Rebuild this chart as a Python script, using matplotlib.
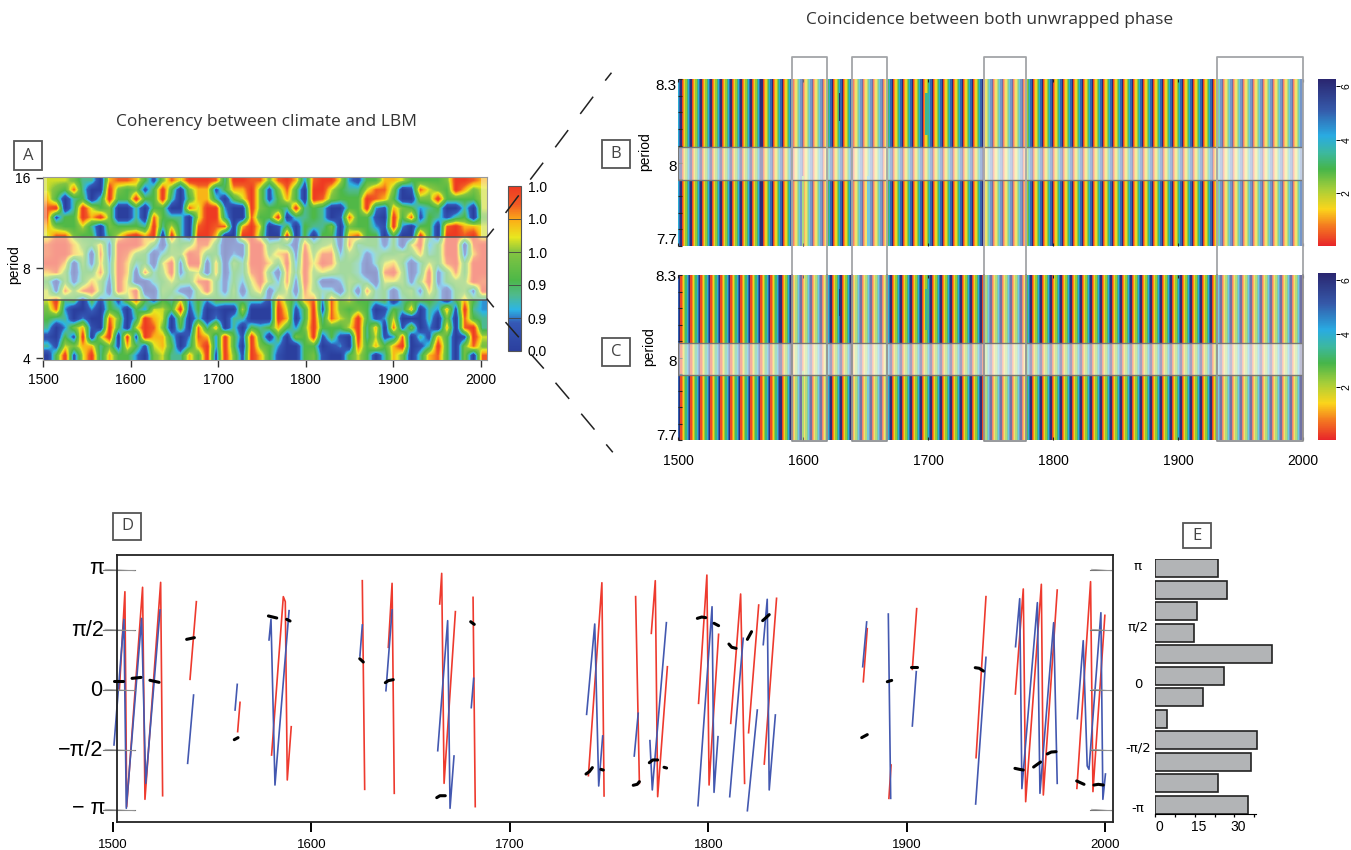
import numpy as np
import matplotlib
matplotlib.use("Agg")
import matplotlib.pyplot as plt
from matplotlib.colors import LinearSegmentedColormap
from matplotlib.patches import Rectangle
from matplotlib.lines import Line2D
from matplotlib.transforms import ScaledTranslation

W, H = 1351, 850
plt.rcParams['font.family'] = ['Liberation Sans', 'DejaVu Sans']

# panel A, coherency (0 = blue ... 9 = red), top row = period 16
coherency_rows = [
    "6665330788741586999839988" + "5897289962144776444459987",
    "6548300954514940577147795" + "1584099643368850186549756",
    "7403403944944930477304695" + "1474098544498740055944446",
    "8903964500304400869920095" + "4439343004492175423400306",
    "8144979500308433069930084" + "4903343018441094814313405",
    "7544630544439363089880796" + "0140433505442192044089776",
    "6885440468979093099700995" + "0090404407844040094099896",
    "8997547199974054588401199" + "4530845608344140692499089",
    "8997608198540355984402199" + "5781958825413445473499179",
    "9970517297340691990705399" + "7492969844303674036489499",
    "7850448297083591560704389" + "4083956544300895039148499",
    "4051475196003464489414269" + "5281950025430665159145598",
    "6185895096900541059415057" + "0460853305083404517304519",
    "6934041415841436242444333" + "1853782856443403444304742",
    "5820020430426649140100600" + "0961491854540143703271932",
    "4330200850397605030203300" + "0970493865941260003050843",
    "3025710940698504083703043" + "4742594446937081502070893",
    "1041906909197730287294194" + "0405491410936128031740196",
    "3165773517416740379294095" + "4200440120847479013940585",
    "0491693744205633749195197" + "4100451004640375037840508",
]
coherency_bar_labels = ["0.0", "0.9", "0.9", "1.0", "1.0", "1.0"]
band_a_periods = [6.25, 10.15]

# panels B and C, years where the phase wraps, and the phase inside one cycle
wrap_years_b = [1503, 1511, 1519, 1527, 1535, 1543, 1551, 1559, 1568, 1576, 1584, 1592, 1600, 1608, 1616,
                1624, 1632, 1640, 1648, 1656, 1664, 1672, 1680, 1688, 1696, 1704, 1712, 1720, 1728, 1736,
                1744, 1752, 1760, 1768, 1776, 1784, 1792, 1800, 1808, 1816, 1824, 1832, 1840, 1848, 1856,
                1864, 1872, 1880, 1888, 1896, 1904, 1912, 1920, 1928, 1936, 1944, 1952, 1960, 1968, 1976,
                1984, 1992]
wrap_years_c = [1502, 1510, 1518, 1526, 1534, 1542, 1550, 1558, 1566, 1574, 1583, 1591, 1599, 1607, 1615,
                1623, 1631, 1639, 1647, 1655, 1663, 1671, 1679, 1687, 1695, 1703, 1711, 1719, 1727, 1735,
                1743, 1751, 1759, 1767, 1775, 1783, 1791, 1799, 1807, 1815, 1823, 1831, 1839, 1847, 1855,
                1863, 1871, 1879, 1887, 1895, 1903, 1911, 1919, 1927, 1935, 1943, 1951, 1959, 1967, 1975,
                1983, 1991, 1999]
cycle_phase = [0.3, 0.9, 1.5, 2.3, 3.2, 4.0, 5.0, 6.1]
anomaly_years = [1599, 1600, 1651, 1652, 1629, 1698, 1699, 1700]
anomaly_first_row = [7, 7, 7, 7, 1, 1, 1, 1]
anomaly_last_row = [12, 12, 12, 12, 3, 4, 4, 4]
anomaly_phase = [2.4, 2.4, 3.9, 3.9, 6.2, 3.4, 3.4, 3.4]
coincidence_starts = [1591.2, 1639.2, 1744.8, 1931.2]
coincidence_ends = [1619.2, 1667.2, 1778.4, 2000]
band_bc_periods = [7.937, 8.054]
period_minor = [7.76, 7.82, 7.88, 7.94, 8.06, 8.12, 8.18, 8.24]
year_ticks = [1500, 1600, 1700, 1800, 1900, 2000]

# panel D, phase in units of pi
red_lines = [
    ([1503.2, 1506.0, 1506.9, 1514.9, 1516.1, 1524.0, 1525.0], [0.0, .819, -.972, .856, -.911, .897, -.881]),
    ([1538.8, 1542.0], [.089, .736]),
    ([1562.8, 1564.0], [-.347, -.103]),
    ([1579.9, 1585.8, 1586.8, 1587.8, 1589.8], [-.542, .778, .736, -.75, -.306]),
    ([1625.6, 1626.8], [.911, -.828]),
    ([1638.7, 1640.6, 1641.7], [.356, .889, -.861]),
    ([1664.6, 1665.6, 1666.8, 1672.5], [.717, .972, -.778, .653]),
    ([1681.4, 1682.5], [.772, -.972]),
    ([1739.5, 1746.3, 1747.4], [-.714, .894, -.883]),
    ([1763.3, 1765.2], [.778, -.778]),
    ([1771.2, 1773.2, 1774.4, 1779.3], [.472, .911, -.889, .194]),
    ([1795.0, 1799.2, 1800.3, 1805.1], [-.111, .958, -.792, .464]),
    ([1811.2, 1816.2, 1818.2], [-.278, .8, -.778]),
    ([1820.2, 1825.3], [-.356, .708]),
    ([1828.1, 1834.3], [-.617, .764]),
    ([1878.0, 1880.0], [.069, .511]),
    ([1890.9, 1892.0], [-.903, -.625]),
    ([1902.7, 1904.9], [.172, .678]),
    ([1934.8, 1939.8], [-.564, .778]),
    ([1954.6, 1958.6, 1959.8, 1967.7, 1968.7, 1975.7], [-.033, .842, -.931, .881, -.875, .833]),
    ([1985.6, 1992.5, 1993.7, 1999.7], [-.82, .903, -.847, .622]),
]
blue_lines = [
    ([1500.5, 1505.5, 1506.7, 1514.4, 1516.5, 1523.7], [-.458, .589, -.986, .597, -.778, .667]),
    ([1537.6, 1540.6], [-.611, -.042]),
    ([1561.5, 1562.6], [-.167, .047]),
    ([1578.6, 1579.6, 1581.6, 1588.7], [.417, .589, -.792, .661]),
    ([1624.4, 1625.6], [.283, .542]),
    ([1637.5, 1640.6], [-.006, .667]),
    ([1663.6, 1668.6, 1669.8, 1671.8], [-.506, .578, -.986, -.55]),
    ([1680.5, 1681.7], [-.147, .097]),
    ([1738.6, 1742.7, 1744.7, 1746.7], [-.203, .55, -.8, -.383]),
    ([1762.6, 1764.6], [-.55, -.194]),
    ([1770.5, 1771.7, 1778.8], [-.422, -.833, .561]),
    ([1794.7, 1801.8, 1802.8, 1804.8], [-.964, .694, -.853, -.389]),
    ([1810.7, 1817.5], [-.889, .431]),
    ([1819.6, 1824.6], [-1.006, -.167]),
    ([1827.6, 1829.6, 1830.6, 1833.7], [.378, .756, -.833, -.208]),
    ([1877.7, 1879.7], [.194, .567]),
    ([1890.6, 1891.8], [.633, -.903]),
    ([1902.7, 1904.7], [-.3, .153]),
    ([1934.6, 1939.8], [-.95, .272]),
    ([1954.7, 1956.8, 1957.9, 1965.7, 1967.0, 1973.9, 1975.7], [.361, .761, -.822, .728, -.861, .561, -.778]),
    ([1985.8, 1988.8, 1990.8, 1991.7, 1997.7, 1998.7, 2000.0], [-.239, .411, -.633, -.661, .644, -.911, -.7]),
]
black_lines = [
    ([1500.5, 1504.9], [.078, .078]), ([1509.6, 1514.1], [.097, .105]), ([1518.6, 1523.2], [.081, .064]),
    ([1537.1, 1541.0], [.422, .436]), ([1561.1, 1563.0], [-.414, -.397]), ([1578.3, 1582.5], [.617, .6]),
    ([1587.5, 1589.2], [.589, .575]), ([1624.3, 1626.1], [.261, .233]),
    ([1637.2, 1638.7, 1641.2], [.061, .078, .086]), ([1663.1, 1664.7, 1667.4], [-.897, -.881, -.881]),
    ([1680.2, 1682.0], [.569, .547]), ([1738.3, 1740.0, 1741.5], [-.7, -.68, -.647]),
    ([1745.8, 1747.0], [-.661, -.667]), ([1762.1, 1764.1, 1765.2], [-.794, -.786, -.764]),
    ([1770.2, 1771.9, 1774.4], [-.606, -.583, -.583]), ([1777.6, 1778.9], [-.644, -.65]),
    ([1794.4, 1796.6, 1798.6], [.597, .608, .603]), ([1802.8, 1805.1], [.556, .536]),
    ([1810.3, 1811.7, 1813.9], [.383, .356, .347]), ([1819.6, 1821.7], [.422, .486]),
    ([1827.3, 1829.0, 1830.6], [.578, .603, .628]), ([1877.2, 1880.0], [-.397, -.372]),
    ([1890.1, 1892.3], [.069, .08]), ([1902.2, 1905.2], [.189, .189]),
    ([1934.4, 1936.4, 1938.5], [.186, .181, .158]), ([1954.4, 1956.6, 1958.6], [-.653, -.661, -.667]),
    ([1963.8, 1967.3], [-.642, -.6]), ([1970.7, 1972.7, 1975.1], [-.533, -.517, -.514]),
    ([1985.5, 1989.2], [-.758, -.786]), ([1994.2, 1996.4, 1998.9], [-.792, -.786, -.792]),
]
phase_marks = [1, 0.5, 0, -0.5, -1]

# panel E, histogram counts from the top bar down
hist_counts = [23.8, 27.4, 15.9, 14.8, 44.3, 26.1, 18.2, 4.5, 38.6, 36.3, 23.8, 35.2]
hist_ticks = [0, 15, 30]
hist_minor = [7.5, 22.5, 37.5]

coh_cmap = LinearSegmentedColormap.from_list("coh", [
    (0, "#2b3f9e"), (.17, "#3558b5"), (.25, "#2cb5e5"), (.34, "#4fba8c"), (.43, "#4db848"),
    (.6, "#84c441"), (.69, "#e8e71f"), (.79, "#fbb017"), (.89, "#f15a24"), (1, "#ee3a22")])
phase_cmap = LinearSegmentedColormap.from_list("phase", [
    (0, "#e8262a"), (.12, "#f47b20"), (.22, "#fbd51b"), (.34, "#a6ce39"), (.46, "#46b54a"),
    (.56, "#3cb8a0"), (.66, "#29abe2"), (.82, "#3558a8"), (1, "#2a2670")])

fig = plt.figure(figsize=(W / 100, H / 100), dpi=100)


def px_axes(x0, y0, x1, y1):
    return fig.add_axes([x0 / W, 1 - y1 / H, (x1 - x0) / W, (y1 - y0) / H])


def px_text(x, y, s, **kw):
    kw.setdefault("ha", "center")
    kw.setdefault("va", "center")
    fig.text(x / W, 1 - y / H, s, **kw)


def px_line(xs, ys, **kw):
    fig.add_artist(Line2D([x / W for x in xs], [1 - y / H for y in ys], **kw))


def letter_box(x0, y0, x1, y1, s):
    fig.add_artist(Rectangle((x0 / W, 1 - y1 / H), (x1 - x0) / W, (y1 - y0) / H, transform=fig.transFigure,
                             fill=False, ec="#555555", lw=1.3))
    px_text((x0 + x1) / 2, (y0 + y1) / 2, s, family="Open Sans", fontsize=12, color="#444444")


# ---- panel A
ax_a = px_axes(43, 177, 487, 360)
grid = np.array([[int(c) for c in row] for row in coherency_rows], dtype=float)
im_a = ax_a.imshow(grid, cmap=coh_cmap, vmin=0, vmax=9, aspect="auto", interpolation="bilinear",
                   extent=[1500, 2007, 1.978, 4.011])
ax_a.add_patch(Rectangle((1500, np.log2(band_a_periods[0])), 507, np.log2(band_a_periods[1] / band_a_periods[0]),
                         fc=(1, 1, 1, .48), ec="#555555", lw=1.1, zorder=3))
ax_a.add_patch(Rectangle((1500, 3.344), 5, 0.667, fc=(1, 1, 1, .35), ec="none", zorder=2))
ax_a.add_patch(Rectangle((2000, 3.344), 7, 0.667, fc=(1, 1, 1, .4), ec="none", zorder=2))
ax_a.set_xticks(year_ticks)
ax_a.set_yticks([2, 3, 4], ["4", "8", "16"])
ax_a.tick_params(labelsize=10, length=5, width=1, pad=4, color="#333333")
for s in ax_a.spines.values():
    s.set_color("#999999")
px_text(14, 265, "period", rotation=90, fontsize=10)
px_text(266, 122, "Coherency between climate and LBM", family="Open Sans", fontsize=12.5, color="#333333")
letter_box(14, 141, 42, 170, "A")

cax_a = px_axes(508, 186, 521, 351)
cb_a = fig.colorbar(im_a, cax=cax_a)
cb_a.set_ticks(np.linspace(0, 9, 6), labels=coherency_bar_labels)
cb_a.ax.tick_params(labelsize=10, length=0, pad=5)
cb_a.outline.set_edgecolor("#555555")
for v in np.linspace(0, 9, 6)[1:-1]:
    cax_a.axhline(v, color="#444444", lw=0.6)

# dashed zoom lines from A to B and C
upper_dash_x = [(487.3, 493.3), (506, 518.3), (530.7, 542.7), (555.7, 567.7), (580.7, 592.7), (605.7, 611)]
upper_dash_y = [(236.7, 229.3), (212.3, 196), (179, 163.3), (146.7, 130.7), (113.3, 97.3), (80, 73.3)]
lower_dash_x = [(487.3, 493.3), (506, 518.3), (531.7, 543.3), (556, 568.7), (581.7, 594), (606.7, 612.3)]
lower_dash_y = [(299.3, 306.7), (322.7, 336.7), (355, 368), (383.3, 398.3), (414.3, 429), (445, 451.7)]
for xs, ys in list(zip(upper_dash_x, upper_dash_y)) + list(zip(lower_dash_x, lower_dash_y)):
    px_line(xs, ys, color="#222222", lw=1.1, zorder=5)


# ---- panels B and C
def stripes(ax, wraps):
    years = np.arange(1500, 2000)
    mat = np.zeros((12, years.size))
    for j, yr in enumerate(years):
        last = [w for w in wraps if w <= yr]
        start = last[-1] if last else wraps[0] - 8
        mat[:, j] = cycle_phase[min(yr - start, len(cycle_phase) - 1)]
    for yr, r0, r1, ph in zip(anomaly_years, anomaly_first_row, anomaly_last_row, anomaly_phase):
        mat[r0:r1, yr - 1500] = ph
    im = ax.imshow(mat, cmap=phase_cmap, vmin=0, vmax=6.28, aspect="auto", interpolation="nearest",
                   extent=[1500, 2000, 7.7, 8.3])
    ax.add_patch(Rectangle((1500, band_bc_periods[0]), 500, band_bc_periods[1] - band_bc_periods[0],
                           fc=(1, 1, 1, .55), ec="#777777", lw=1, zorder=4))
    for a, b in zip(coincidence_starts, coincidence_ends):
        ax.add_patch(Rectangle((a, 7.7), b - a, 0.6, fc=(1, 1, 1, .33), ec="none", zorder=3))
    ax.set_yticks(period_minor + [7.7, 8.0, 8.3], [""] * 11)
    ax.tick_params(axis="y", direction="in", length=3, width=0.8, color="#222222")
    ax.tick_params(axis="x", direction="in", top=True, length=2, width=0.8, color="#222222")
    ax.set_xticks(year_ticks, [""] * 6)
    for s in ax.spines.values():
        s.set_visible(False)
    return im


ax_b = px_axes(678, 79, 1303, 246)
ax_c = px_axes(678, 275, 1303, 440)
im_b = stripes(ax_b, wrap_years_b)
im_c = stripes(ax_c, wrap_years_c)

tr_b = ax_b.get_xaxis_transform()
tr_c = ax_c.get_xaxis_transform()
for a, b in zip(coincidence_starts, coincidence_ends):
    ax_b.plot([a, a, b, b], [-0.174, 1.132, 1.132, -0.174], transform=tr_b, clip_on=False, color="#a3a5a8",
              lw=1.3, zorder=6)
    ax_c.plot([a, a, b, b], [1, -0.006, -0.006, 1], transform=tr_c, clip_on=False, color="#8f9194", lw=1.3, zorder=6)

ax_c.set_xticks(year_ticks, [str(y) for y in year_ticks])
ax_c.tick_params(axis="x", which="major", labelsize=10, pad=10)
for y, s in zip([86, 167, 240, 277, 362, 436], ["8.3", "8", "7.7", "8.3", "8", "7.7"]):
    px_text(677, y, s, ha="right", fontsize=11)
px_text(645, 152, "period", rotation=90, fontsize=10)
px_text(649, 347, "period", rotation=90, fontsize=10)
px_text(990, 20, "Coincidence between both unwrapped phase", family="Open Sans", fontsize=12.5, color="#333333")
letter_box(602, 140, 630, 168, "B")
letter_box(602, 338, 630, 366, "C")

for (y0, y1), im in zip([(79, 246), (273, 440)], [im_b, im_c]):
    cax = px_axes(1318, y0, 1336, y1)
    cb = fig.colorbar(im, cax=cax)
    cb.set_ticks([2, 4, 6])
    cb.ax.tick_params(labelsize=7.5, length=3, width=0.7, pad=1, labelrotation=90)
    for lab in cb.ax.get_yticklabels():
        lab.set_va("center")
    cb.outline.set_visible(False)

# ---- panel D
ax_d = px_axes(113, 555, 1113, 822)
ax_d.set_xlim(1500, 2003.8)
ax_d.set_ylim(-1.1, 1.125)
for xs, ys in red_lines:
    ax_d.plot(xs, ys, color="#ee3a2e", lw=1.2)
for xs, ys in blue_lines:
    ax_d.plot(xs, ys, color="#4358b0", lw=1.2)
for xs, ys in black_lines:
    ax_d.plot(xs, ys, color="black", lw=2.2, solid_capstyle="round", zorder=4)
for m in phase_marks:
    for lo, hi in [(1495, 1511), (1992, 2003)]:
        ax_d.plot([lo, hi], [m, m], color="#777777", lw=0.8, clip_on=False)
        ax_d.plot([lo + 1, hi], [m + .006, m - .006], color="#999999", lw=0.6, clip_on=False)
ax_d.spines["left"].set_position(("data", 1502))
ax_d.spines["top"].set_bounds(1502, 2003.8)
ax_d.spines["bottom"].set_bounds(1502, 2003.8)
for s in ax_d.spines.values():
    s.set_linewidth(1.3)
    s.set_color("#222222")
ax_d.set_yticks([])
ax_d.set_xticks(year_ticks, [str(y) for y in year_ticks])
ax_d.tick_params(axis="x", length=7, width=1.4, labelsize=9.5, pad=5)
for y, s, x in zip([568, 630, 690, 750, 809], ["π", "π/2", "0", "−π/2", "− π"], [97, 88, 96, 81, 89]):
    px_text(x, y, s, fontsize=15.5)
letter_box(113, 513, 141, 540, "D")

# ---- panel E
ax_e = px_axes(1155, 559.3, 1273, 814)
ax_e.barh(range(len(hist_counts)), hist_counts, height=0.84, color="#b2b4b6", edgecolor="#222222", lw=1.2)
ax_e.set_xlim(0, 44.6)
ax_e.set_ylim(11.42, -0.42)
ax_e.set_yticks([])
ax_e.set_xticks(hist_ticks, [str(t) for t in hist_ticks])
ax_e.set_xticks(hist_minor, minor=True)
ax_e.tick_params(axis="x", which="both", length=2, width=0.9, labelsize=10, pad=2)
for lab in ax_e.get_xticklabels():
    lab.set_transform(lab.get_transform() + ScaledTranslation(0.04, 0, fig.dpi_scale_trans))
for s in ["top", "right", "left"]:
    ax_e.spines[s].set_visible(False)
ax_e.spines["bottom"].set_bounds(0, 38)
for y, s in zip([567, 627, 685, 748, 808], ["π", "π/2", "0", "-π/2", "-π"]):
    px_text(1138, y, s, family="DejaVu Sans", fontsize=9.5)
letter_box(1183, 523, 1211, 548, "E")

fig.savefig("out.png", dpi=100)
